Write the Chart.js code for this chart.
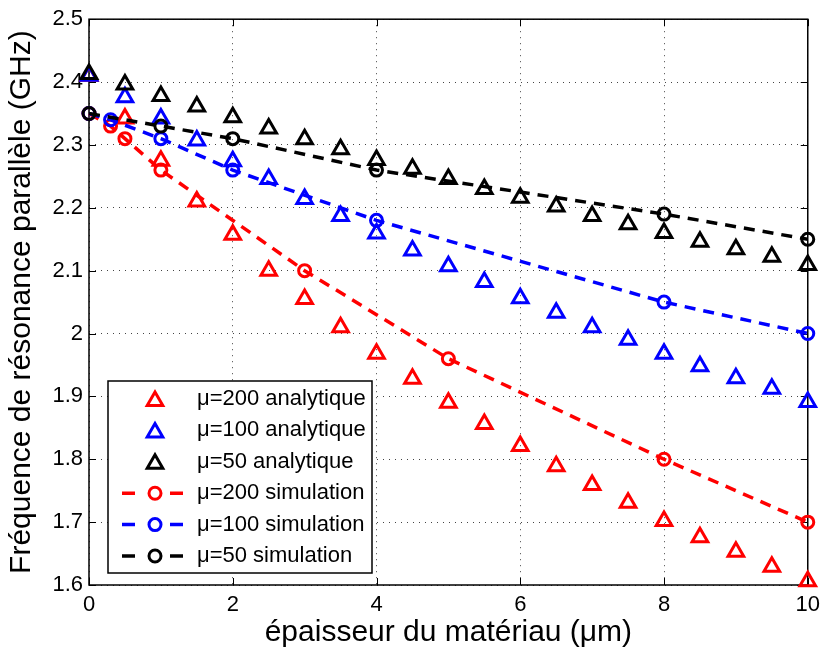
<!DOCTYPE html>
<html>
<head>
<meta charset="utf-8">
<script src="https://cdn.jsdelivr.net/npm/chart.js"></script>
<style>
  body { margin: 0; background: #fff; }
  #wrap { width: 827px; height: 655px; }
</style>
</head>
<body>
<div id="wrap"><canvas id="chart" width="827" height="655"></canvas></div>
<script>
// épaisseur (µm) pour les courbes analytiques
const epaisseurAna = [0, 0.5, 1, 1.5, 2, 2.5, 3, 3.5, 4, 4.5, 5, 5.5, 6, 6.5, 7, 7.5, 8, 8.5, 9, 9.5, 10];
const ana200 = [2.41, 2.342, 2.275, 2.21, 2.157, 2.10, 2.055, 2.01, 1.968, 1.928, 1.89, 1.856, 1.821, 1.789, 1.759, 1.731, 1.702, 1.676, 1.653, 1.629, 1.606];
const ana100 = [2.41, 2.376, 2.342, 2.307, 2.274, 2.246, 2.214, 2.187, 2.159, 2.132, 2.107, 2.082, 2.056, 2.033, 2.01, 1.99, 1.968, 1.948, 1.929, 1.912, 1.891];
const ana50 = [2.413, 2.396, 2.378, 2.361, 2.344, 2.326, 2.309, 2.293, 2.276, 2.262, 2.246, 2.23, 2.216, 2.202, 2.187, 2.174, 2.16, 2.146, 2.134, 2.122, 2.109];

// points de simulation
const epSim200 = [0, 0.3, 0.5, 1, 3, 5, 8, 10];
const sim200 = [2.35, 2.33, 2.31, 2.26, 2.10, 1.96, 1.80, 1.70];
const epSim100 = [0, 0.3, 1, 2, 4, 8, 10];
const sim100 = [2.35, 2.34, 2.31, 2.26, 2.18, 2.05, 2.00];
const epSim50 = [0, 1, 2, 4, 8, 10];
const sim50 = [2.35, 2.33, 2.31, 2.26, 2.19, 2.15];

const labels = ['μ=200 analytique', 'μ=100 analytique', 'μ=50 analytique',
                'μ=200 simulation', 'μ=100 simulation', 'μ=50 simulation'];
const couleurs = ['#ff0000', '#0000ff', '#000000'];

const FONT = "'Liberation Sans', Arial, Helvetica, sans-serif";

function pts(xs, ys) {
    return xs.map((x, i) => ({ x: x, y: ys[i] }));
}

function analytique(label, xs, ys, color, order) {
    return {
        label: label, data: pts(xs, ys), showLine: false,
        pointStyle: 'triangle', pointRadius: 9, pointHoverRadius: 9,
        pointBorderWidth: 3, pointBorderColor: color,
        pointBackgroundColor: 'rgba(0,0,0,0)', borderColor: color,
        clip: false, order: order
    };
}

function simulation(label, xs, ys, color, order) {
    return {
        label: label, data: pts(xs, ys), showLine: true,
        borderColor: color, borderWidth: 3.5, borderDash: [11, 8],
        pointStyle: 'circle', pointRadius: 6, pointHoverRadius: 6,
        pointBorderWidth: 3, pointBorderColor: color,
        pointBackgroundColor: 'rgba(0,0,0,0)', backgroundColor: 'rgba(0,0,0,0)',
        fill: false, tension: 0, clip: false, order: order
    };
}

// cadre, graduations vers l'intérieur et légende dans la zone du graphe
const cadrePlugin = {
    id: 'cadre',
    beforeDatasetsDraw(chart) {
        const ctx = chart.ctx;
        const a = chart.chartArea;
        const sx = chart.scales.x, sy = chart.scales.y;
        ctx.save();
        ctx.strokeStyle = '#000';
        ctx.lineWidth = 1.5;
        ctx.strokeRect(a.left, a.top, a.right - a.left, a.bottom - a.top);
        ctx.lineWidth = 1;
        ctx.beginPath();
        sx.ticks.forEach(t => {
            const px = Math.round(sx.getPixelForValue(t.value)) + 0.5;
            ctx.moveTo(px, a.bottom); ctx.lineTo(px, a.bottom - 7);
            ctx.moveTo(px, a.top); ctx.lineTo(px, a.top + 7);
        });
        sy.ticks.forEach(t => {
            const py = Math.round(sy.getPixelForValue(t.value)) + 0.5;
            ctx.moveTo(a.left, py); ctx.lineTo(a.left + 7, py);
            ctx.moveTo(a.right, py); ctx.lineTo(a.right - 7, py);
        });
        ctx.stroke();
        ctx.restore();
    },
    afterDraw(chart) {
        const ctx = chart.ctx;
        const box = { x: 108, y: 381, w: 264, h: 192 };
        const rowH = 31.4, y0 = 399, mx = 155, tx = 197;
        ctx.save();
        ctx.fillStyle = '#fff';
        ctx.fillRect(box.x, box.y, box.w, box.h);
        ctx.strokeStyle = '#000';
        ctx.lineWidth = 1.5;
        ctx.strokeRect(box.x, box.y, box.w, box.h);
        chart.data.datasets.forEach((ds, i) => {
            const y = y0 + i * rowH;
            ctx.strokeStyle = ds.pointBorderColor;
            if (ds.showLine) {
                ctx.lineWidth = ds.borderWidth;
                ctx.setLineDash([13, 35]);
                ctx.beginPath();
                ctx.moveTo(122, y); ctx.lineTo(188, y);
                ctx.stroke();
                ctx.setLineDash([]);
            }
            ctx.lineWidth = ds.pointBorderWidth;
            ctx.beginPath();
            if (ds.pointStyle === 'triangle') {
                const r = ds.pointRadius;
                let ang = 0;
                ctx.moveTo(mx + Math.sin(ang) * r, y + 2 - Math.cos(ang) * r);
                for (let k = 0; k < 2; k++) {
                    ang += 2 * Math.PI / 3;
                    ctx.lineTo(mx + Math.sin(ang) * r, y + 2 - Math.cos(ang) * r);
                }
                ctx.closePath();
            } else {
                ctx.arc(mx, y, ds.pointRadius, 0, 2 * Math.PI);
            }
            ctx.stroke();
            ctx.fillStyle = '#000';
            ctx.font = '22px ' + FONT;
            ctx.textBaseline = 'middle';
            ctx.textAlign = 'left';
            ctx.fillText(ds.label, tx, y);
        });
        ctx.restore();
    }
};

const ctx = document.getElementById('chart').getContext('2d');
new Chart(ctx, {
    type: 'scatter',
    data: {
        datasets: [
            analytique(labels[0], epaisseurAna, ana200, couleurs[0], 5),
            analytique(labels[1], epaisseurAna, ana100, couleurs[1], 4),
            analytique(labels[2], epaisseurAna, ana50, couleurs[2], 3),
            simulation(labels[3], epSim200, sim200, couleurs[0], 2),
            simulation(labels[4], epSim100, sim100, couleurs[1], 1),
            simulation(labels[5], epSim50, sim50, couleurs[2], 0)
        ]
    },
    options: {
        responsive: false,
        animation: false,
        layout: { padding: { top: 14, right: 14, left: 0, bottom: 0 } },
        plugins: { legend: { display: false }, tooltip: { enabled: false } },
        scales: {
            x: {
                type: 'linear', min: 0, max: 10,
                afterFit: s => { s.height = 70; },
                ticks: { stepSize: 2, padding: 7, color: '#000', font: { family: FONT, size: 22 } },
                grid: { color: '#444', lineWidth: 1, drawTicks: false },
                border: { display: false, dash: [1, 5] },
                title: {
                    display: true, text: 'épaisseur du matériau (μm)', color: '#000',
                    font: { family: FONT, size: 30 }, padding: { top: 0, bottom: 4 }
                }
            },
            y: {
                type: 'linear', min: 1.6, max: 2.5,
                afterFit: s => { s.width = 89; },
                ticks: {
                    stepSize: 0.1, padding: 6, color: '#000', font: { family: FONT, size: 22 },
                    callback: v => String(Number(v.toFixed(1)))
                },
                grid: { color: '#444', lineWidth: 1, drawTicks: false },
                border: { display: false, dash: [1, 5] },
                title: {
                    display: true, text: 'Fréquence de résonance parallèle (GHz)', color: '#000',
                    font: { family: FONT, size: 30 }, padding: { top: 4, bottom: 0 }
                }
            }
        }
    },
    plugins: [cadrePlugin]
});
</script>
</body>
</html>
